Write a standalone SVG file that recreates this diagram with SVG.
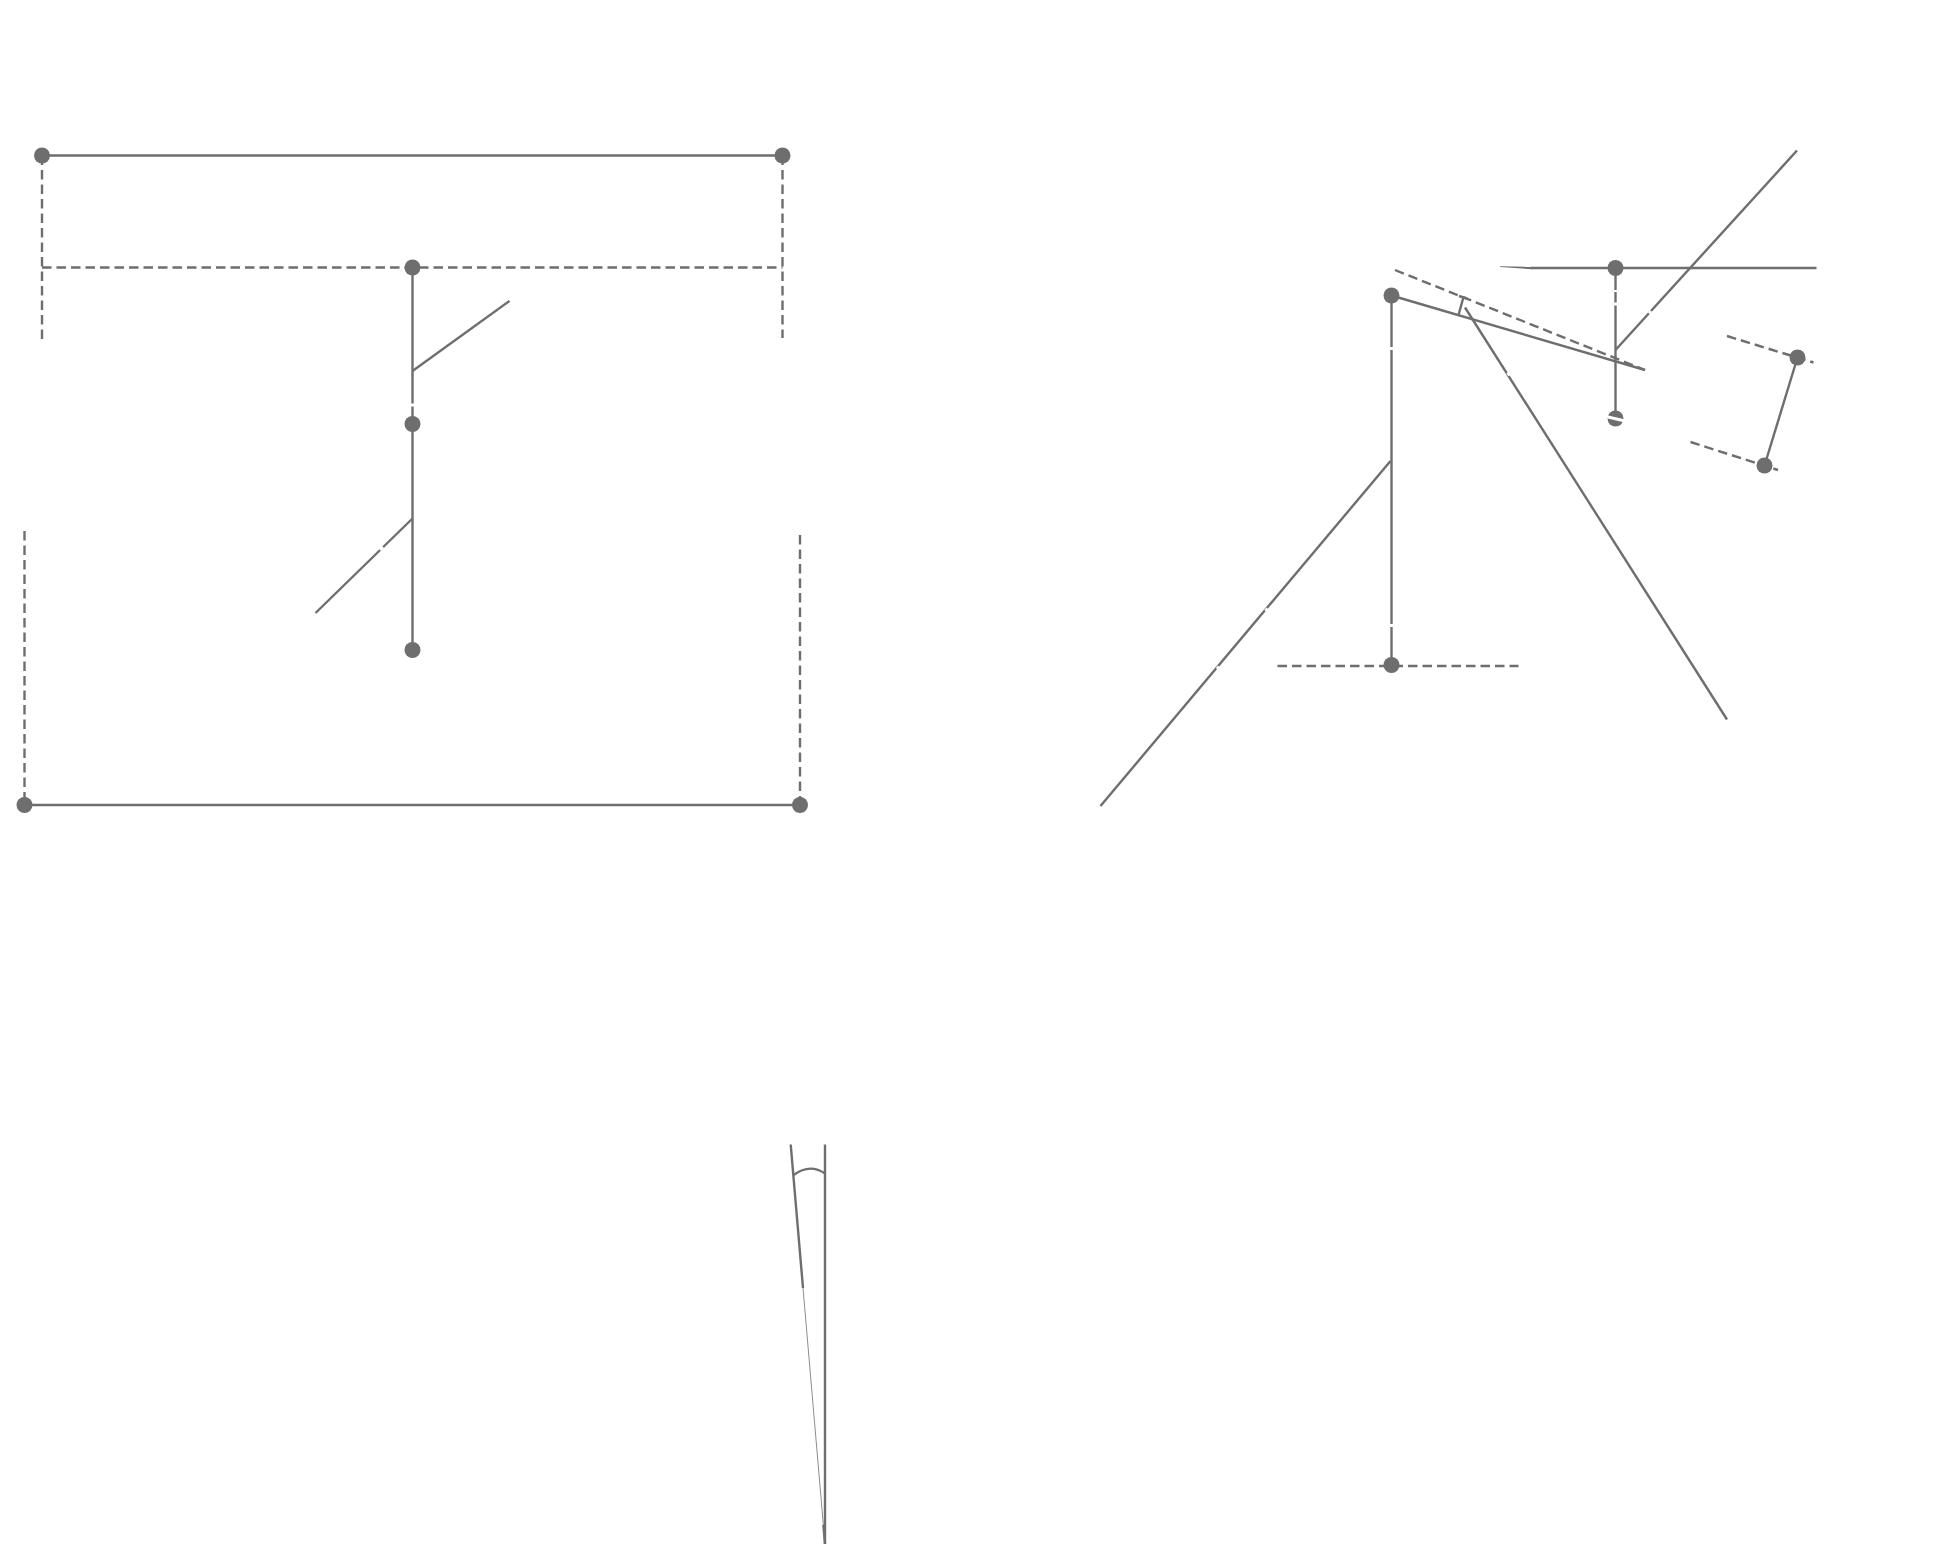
<svg xmlns="http://www.w3.org/2000/svg" width="1960" height="1548" viewBox="0 0 1960 1548">
<style>
.s{stroke:#6e6e6e;stroke-width:2.4;fill:none}
.d{stroke:#6e6e6e;stroke-width:2.4;fill:none;stroke-dasharray:9.5 5}
.g{stroke:#fff;stroke-width:3;fill:none}
.n{fill:#6e6e6e}
</style>
<rect width="1960" height="1548" fill="#fff"/>
<g id="connectors">
<line class="s" x1="42" y1="155.5" x2="782.5" y2="155.5"/>
<line class="d" x1="42" y1="155.5" x2="42" y2="342"/>
<line class="d" x1="782.5" y1="155.5" x2="782.5" y2="338"/>
<line class="d" x1="42" y1="267.5" x2="782.5" y2="267.5"/>
<line class="s" x1="412.5" y1="267.5" x2="412.5" y2="650"/>
<line class="s" x1="412.5" y1="371" x2="509.5" y2="301"/>
<line class="s" x1="412.5" y1="518.5" x2="315.5" y2="613"/>
<line class="g" x1="412.5" y1="403.5" x2="412.5" y2="406.5"/>
<line class="g" x1="380" y1="550" x2="383" y2="547"/>
<line class="d" x1="24.5" y1="531" x2="24.5" y2="805"/>
<line class="d" x1="800" y1="535" x2="800" y2="805"/>
<line class="s" x1="24.5" y1="805" x2="800" y2="805"/>
<line class="s" x1="1391.5" y1="295.5" x2="1391.5" y2="665"/>
<line class="s" x1="1391.5" y1="295.5" x2="1645" y2="370"/>
<line class="d" x1="1395" y1="270" x2="1645" y2="370"/>
<line class="s" x1="1463.5" y1="297" x2="1458.5" y2="315"/>
<line class="s" x1="1459" y1="296" x2="1467" y2="298.5"/>
<line class="s" x1="1465" y1="307.5" x2="1727" y2="719.5"/>
<line class="s" x1="1390.5" y1="461" x2="1100.5" y2="806"/>
<line class="d" x1="1277.5" y1="666" x2="1518.5" y2="666"/>
<line class="g" x1="1391.5" y1="347" x2="1391.5" y2="350"/>
<line class="g" x1="1391.5" y1="624" x2="1391.5" y2="627"/>
<line class="g" x1="1507.5" y1="372.5" x2="1509.5" y2="375.5"/>
<line class="g" x1="1265.5" y1="611" x2="1267.5" y2="608.5"/>
<line class="g" x1="1217" y1="669" x2="1219" y2="666.5"/>
<polygon class="n" points="1500,266.3 1532,266.8 1532,269.2 1500,267"/>
<line class="s" x1="1531" y1="268" x2="1816.5" y2="268"/>
<line class="s" x1="1615.5" y1="268" x2="1615.5" y2="418"/>
<line class="s" x1="1615.5" y1="350" x2="1797" y2="150.5"/>
<line class="g" x1="1615.5" y1="290" x2="1615.5" y2="292"/>
<line class="g" x1="1615.5" y1="302.5" x2="1615.5" y2="305.5"/>
<line class="g" x1="1649" y1="313.5" x2="1651" y2="311"/>
<line class="d" x1="1727" y1="336" x2="1813.5" y2="362.5"/>
<line class="d" x1="1690.5" y1="442" x2="1778" y2="470"/>
<line class="s" x1="1797.5" y1="357.5" x2="1764.5" y2="465.5"/>
<line class="s" x1="790.7" y1="1144.5" x2="803" y2="1288"/>
<line x1="803" y1="1288" x2="825" y2="1544" stroke="#8c8c8c" stroke-width="1"/>
<line class="s" x1="823.4" y1="1525" x2="825" y2="1544"/>
<line class="s" x1="825" y1="1144.5" x2="825" y2="1544"/>
<path class="s" d="M793.5 1175Q810 1163 825 1173.5"/>
</g>
<g id="node-1"><circle class="n" cx="42" cy="155.5" r="8"/></g>
<g id="node-2"><circle class="n" cx="782.5" cy="155.5" r="8"/></g>
<g id="node-3"><circle class="n" cx="412.5" cy="267.5" r="8"/></g>
<g id="node-4"><circle class="n" cx="412.5" cy="424" r="8"/></g>
<g id="node-5"><circle class="n" cx="412.5" cy="650" r="8"/></g>
<g id="node-6"><circle class="n" cx="24.5" cy="805" r="8"/></g>
<g id="node-7"><circle class="n" cx="800" cy="805" r="8"/></g>
<g id="node-8"><circle class="n" cx="1391.5" cy="295.5" r="8"/></g>
<g id="node-9"><circle class="n" cx="1391.5" cy="665" r="8"/></g>
<g id="node-10"><circle class="n" cx="1615.5" cy="268" r="8"/></g>
<g id="node-11"><circle class="n" cx="1615.5" cy="418.5" r="8"/><line class="g" x1="1606" y1="416.5" x2="1625" y2="421"/></g>
<g id="node-12"><circle class="n" cx="1797.5" cy="357.5" r="8"/></g>
<g id="node-13"><circle class="n" cx="1764.5" cy="465.5" r="8"/></g>
</svg>
